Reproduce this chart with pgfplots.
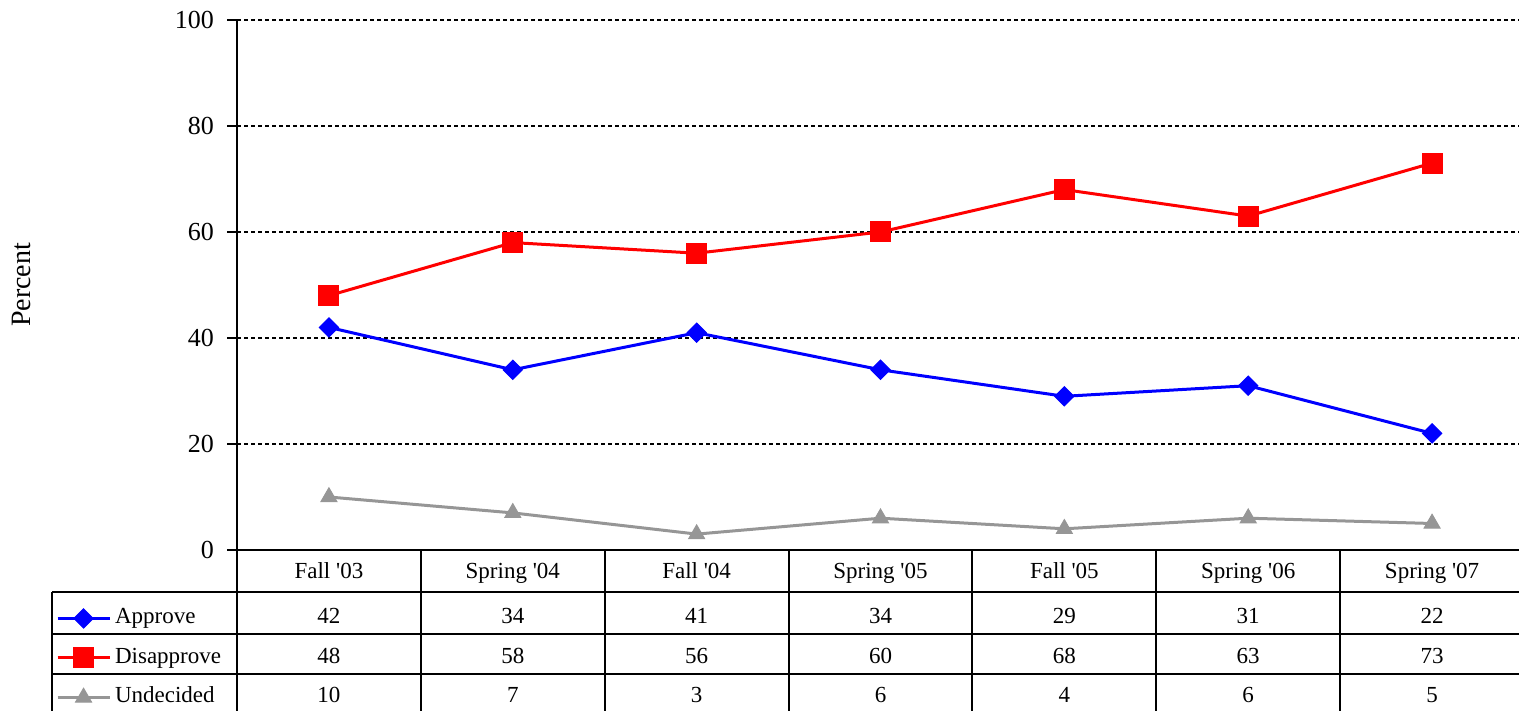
\documentclass[border=0pt]{standalone}
\usepackage{pgfplots}
\pgfplotsset{compat=1.18}
\usepackage{pgfplotstable}
\usepackage{fontspec}
\setmainfont{Liberation Serif}[Ligatures=TeXOff]
\definecolor{ugray}{RGB}{150,150,150}

\pgfplotstableread{
x label approve disapprove undecided
0 {Fall '03}   42 48 10
1 {Spring '04} 34 58 7
2 {Fall '04}   41 56 3
3 {Spring '05} 34 60 6
4 {Fall '05}   29 68 4
5 {Spring '06} 31 63 6
6 {Spring '07} 22 73 5
}\datatable

\begin{document}
\begin{tikzpicture}[x=1pt,y=1pt]
\useasboundingbox (0,0) rectangle (759.5,355.5);
\begin{axis}[
  at={(118.5pt,80.5pt)}, anchor=south west,
  scale only axis, width=643.5pt, height=265pt,
  xmin=-0.5, xmax=6.5, ymin=0, ymax=100,
  axis x line=none, axis y line*=left,
  axis line style={-, line width=1pt},
  ytick={0,20,...,100},
  tick align=outside, major tick length=5pt,
  ytick style={line width=1pt, black},
  ymajorgrids, grid style={black, line width=0.8pt, dash pattern=on 2pt off 1.5pt},
  yticklabel style={font=\fontsize{13}{15}\selectfont, xshift=-3pt},
  /pgf/number format/assume math mode=true,
  ylabel={Percent},
  every axis y label/.style={at={(axis description cs:-0.1671,0.5)}, rotate=90, anchor=center, font=\fontsize{14}{16}\selectfont},
  clip=false,
  legend style={at={(axis description cs:-0.1406,-0.1075)}, anchor=north west,
    draw=none, fill=none, inner sep=0pt, outer sep=0pt, row sep=8.25pt, column sep=2pt,
    nodes={inner sep=0pt, text height=8.5pt, text depth=3pt},
    font=\fontsize{11.5}{13}\selectfont},
  legend cell align=left,
  legend image code/.code={\draw[mark repeat=2,mark phase=2] plot coordinates {(0pt,0pt)(13pt,0pt)(26pt,0pt)};},
]
\addplot[blue, line width=1.5pt, mark=square*, mark size=3.4pt, mark options={rotate=45, solid, line width=0.5pt}] table[x=x, y=approve] {\datatable};
\addlegendentry{Approve}
\addplot[red, line width=1.5pt, mark=square*, mark size=5pt, mark options={solid, line width=0.5pt}] table[x=x, y=disapprove] {\datatable};
\addlegendentry{Disapprove}
\addplot[ugray, line width=1.5pt, mark=triangle*, mark size=4.6pt, mark options={solid, line width=0.5pt}] table[x=x, y=undecided] {\datatable};
\addlegendentry{Undecided}
\end{axis}

\begin{axis}[
  at={(118.5pt,0pt)}, anchor=south west,
  scale only axis, width=643.5pt, height=80.5pt,
  xmin=-0.5, xmax=6.5, ymin=-711, ymax=-550,
  hide axis, clip=false,
  point meta=explicit symbolic,
  nodes near coords, nodes near coords align={center},
  every node near coord/.append style={anchor=base, inner sep=0pt, font=\fontsize{11.5}{13}\selectfont},
]
\addplot[draw=none] table[x=x, y expr=-579, meta=label] {\datatable};
\addplot[draw=none] table[x=x, y expr=-624, meta=approve] {\datatable};
\addplot[draw=none] table[x=x, y expr=-663.5, meta=disapprove] {\datatable};
\addplot[draw=none] table[x=x, y expr=-703, meta=undecided] {\datatable};
\draw[line width=1pt] (axis cs:-0.5,-550) -- (axis cs:6.5,-550);
\draw[line width=1pt] (axis cs:-1.506,-592) -- (axis cs:6.5,-592);
\draw[line width=1pt] (axis cs:-1.506,-634) -- (axis cs:6.5,-634);
\draw[line width=1pt] (axis cs:-1.506,-674) -- (axis cs:6.5,-674);
\draw[line width=1pt] (axis cs:-1.506,-592) -- (axis cs:-1.506,-720);
\draw[line width=1pt] (axis cs:-0.5,-550) -- (axis cs:-0.5,-720);
\draw[line width=1pt] (axis cs:0.5,-550) -- (axis cs:0.5,-720);
\draw[line width=1pt] (axis cs:1.5,-550) -- (axis cs:1.5,-720);
\draw[line width=1pt] (axis cs:2.5,-550) -- (axis cs:2.5,-720);
\draw[line width=1pt] (axis cs:3.5,-550) -- (axis cs:3.5,-720);
\draw[line width=1pt] (axis cs:4.5,-550) -- (axis cs:4.5,-720);
\draw[line width=1pt] (axis cs:5.5,-550) -- (axis cs:5.5,-720);
\end{axis}
\end{tikzpicture}
\end{document}
